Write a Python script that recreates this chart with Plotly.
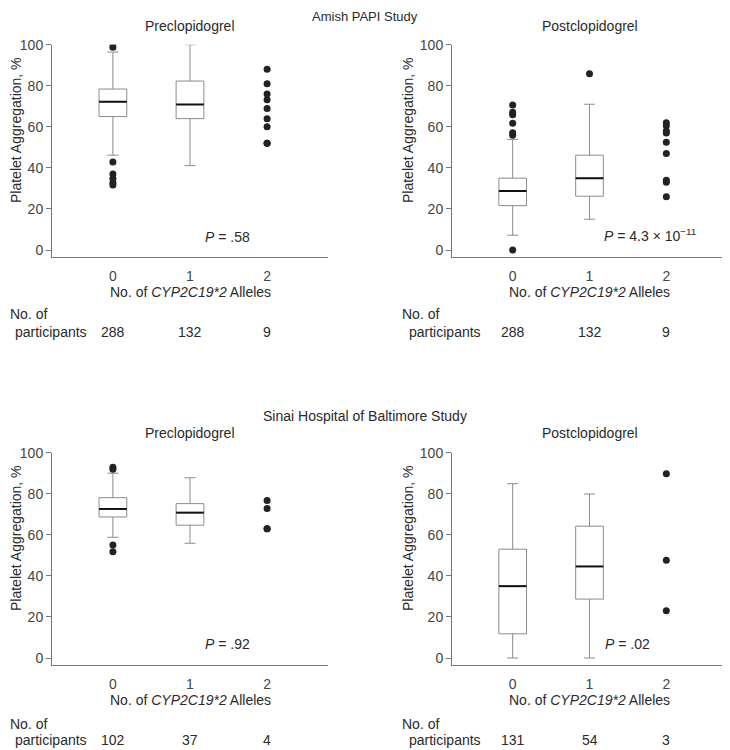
import plotly.graph_objects as go

# ---------------- data ----------------
categories = [0, 1, 2]
tick_labels = ["0", "1", "2"]

# Amish PAPI Study - Preclopidogrel (boxes for 0 and 1 alleles)
amish_pre_q1 = [65, 64]
amish_pre_median = [72.2, 70.9]
amish_pre_q3 = [78.4, 82.3]
amish_pre_low = [46.2, 41.1]
amish_pre_high = [96.4, 100]
amish_pre_out0 = [100.2, 98.7, 42.9, 37, 34.8, 32.8, 31.7]
amish_pre_pts2 = [88, 81, 76, 73.2, 68.9, 63.9, 60, 52, 52]
amish_pre_n = [288, 132, 9]
amish_pre_p = "<i>P</i> = .58"

# Amish PAPI Study - Postclopidogrel
amish_post_q1 = [21.6, 26.2]
amish_post_median = [28.8, 35]
amish_post_q3 = [35, 46.2]
amish_post_low = [7.2, 15]
amish_post_high = [53.9, 71]
amish_post_out0 = [70.6, 67.1, 65.9, 61.7, 57.1, 55.9, 0]
amish_post_out1 = [85.9]
amish_post_pts2 = [62, 60.5, 58, 57, 52.5, 47, 34, 33, 26]
amish_post_n = [288, 132, 9]
amish_post_p = "<i>P</i> = 4.3 × 10<sup>−11</sup>"

# Sinai Hospital of Baltimore Study - Preclopidogrel
sinai_pre_q1 = [68.7, 64.7]
sinai_pre_median = [72.6, 70.8]
sinai_pre_q3 = [78.1, 75.2]
sinai_pre_low = [58.8, 55.9]
sinai_pre_high = [90, 87.8]
sinai_pre_out0 = [92.9, 91.9, 55.1, 51.7]
sinai_pre_pts2 = [76.7, 72.8, 62.9, 62.9]
sinai_pre_n = [102, 37, 4]
sinai_pre_p = "<i>P</i> = .92"

# Sinai Hospital of Baltimore Study - Postclopidogrel
sinai_post_q1 = [11.8, 28.7]
sinai_post_median = [35, 44.6]
sinai_post_q3 = [53, 64.2]
sinai_post_low = [0, 0]
sinai_post_high = [84.9, 79.9]
sinai_post_out0 = []
sinai_post_pts2 = [89.8, 47.6, 23]
sinai_post_n = [131, 54, 3]
sinai_post_p = "<i>P</i> = .02"

# ---------------- styling ----------------
W, H = 730, 750
OFF = 8  # page body margin offset
FONT = "Liberation Sans, Arial, sans-serif"
TXT = "#2a2a2a"
GRAY = "#8c8c8c"
AXC = "#777777"
DOT = "#222222"
BOXW = 0.36
FS = 14


def py(p):
    return 1 - (p - OFF) / H


def px(p):
    return (p - OFF) / W


panels = [
    dict(ax="", dom_x=[px(52), px(328)], dom_y=[py(257), py(44.7)],
         q1=amish_pre_q1, med=amish_pre_median, q3=amish_pre_q3, lo=amish_pre_low, hi=amish_pre_high,
         out=[amish_pre_out0, [], amish_pre_pts2], n=amish_pre_n, p=amish_pre_p, pxy=(1.48, 6.3),
         sub="Preclopidogrel"),
    dict(ax="2", dom_x=[px(452), px(727)], dom_y=[py(257), py(44.7)],
         q1=amish_post_q1, med=amish_post_median, q3=amish_post_q3, lo=amish_post_low, hi=amish_post_high,
         out=[amish_post_out0, amish_post_out1, amish_post_pts2], n=amish_post_n, p=amish_post_p, pxy=(1.79, 7.5),
         sub="Postclopidogrel"),
    dict(ax="3", dom_x=[px(52), px(328)], dom_y=[py(665), py(452.7)],
         q1=sinai_pre_q1, med=sinai_pre_median, q3=sinai_pre_q3, lo=sinai_pre_low, hi=sinai_pre_high,
         out=[sinai_pre_out0, [], sinai_pre_pts2], n=sinai_pre_n, p=sinai_pre_p, pxy=(1.48, 6.8),
         sub="Preclopidogrel"),
    dict(ax="4", dom_x=[px(452), px(727)], dom_y=[py(665), py(452.7)],
         q1=sinai_post_q1, med=sinai_post_median, q3=sinai_post_q3, lo=sinai_post_low, hi=sinai_post_high,
         out=[sinai_post_out0, [], sinai_post_pts2], n=sinai_post_n, p=sinai_post_p, pxy=(1.49, 7.0),
         sub="Postclopidogrel"),
]

fig = go.Figure()
shapes = []
annotations = []
layout = dict(
    width=W, height=H, margin=dict(l=0, r=0, t=0, b=0, autoexpand=False),
    paper_bgcolor="white", plot_bgcolor="white", showlegend=False,
    font=dict(family=FONT, size=FS, color=TXT),
)


def txt(text, x, y, xref="paper", yref="paper", xanchor="center", angle=0, size=FS):
    return dict(text=text, xref=xref, yref=yref, x=x, y=y, showarrow=False,
                xanchor=xanchor, yanchor="middle", textangle=angle, borderpad=0,
                font=dict(family=FONT, size=size, color=TXT))


for i, pn in enumerate(panels):
    xa = "x" + pn["ax"]
    ya = "y" + pn["ax"]
    fig.add_trace(go.Box(
        x=categories[:2], q1=pn["q1"], median=pn["med"], q3=pn["q3"],
        lowerfence=pn["lo"], upperfence=pn["hi"],
        width=BOXW, whiskerwidth=0.4, boxpoints=False,
        line=dict(color=GRAY, width=1), fillcolor="white",
        xaxis=xa, yaxis=ya, hoverinfo="skip",
    ))
    for c, vals in zip(categories, pn["out"]):
        if len(vals):
            fig.add_trace(go.Scatter(
                x=[c] * len(vals), y=vals, mode="markers",
                marker=dict(color=DOT, size=7),
                xaxis=xa, yaxis=ya, hoverinfo="skip",
            ))
    for c, m in zip(categories[:2], pn["med"]):
        shapes.append(dict(type="line", xref=xa, yref=ya, x0=c - BOXW / 2, x1=c + BOXW / 2,
                           y0=m, y1=m, line=dict(color="#111111", width=2), layer="above"))

    layout["xaxis" + pn["ax"]] = dict(
        domain=pn["dom_x"], anchor=ya, range=[-0.79, 2.79],
        tickvals=categories, ticktext=tick_labels,
        showline=True, linecolor=AXC, linewidth=1,
        ticks="outside", ticklen=6, tickcolor="rgba(0,0,0,0)",
        showgrid=False, zeroline=False, automargin=False,
        tickfont=dict(family=FONT, size=FS, color="#444444"), fixedrange=True,
    )
    layout["yaxis" + pn["ax"]] = dict(
        domain=pn["dom_y"], anchor=xa, range=[-3.4, 100],
        tickvals=[0, 20, 40, 60, 80, 100],
        showline=True, linecolor=AXC, linewidth=1,
        ticks="outside", ticklen=5, tickcolor=AXC,
        showgrid=False, zeroline=False, automargin=False,
        tickfont=dict(family=FONT, size=FS, color="#444444"), fixedrange=True,
    )

    top = i < 2
    left = i % 2 == 0
    annotations.append(txt(pn["sub"], 1, py(26 if top else 433.3), xref=xa))
    annotations.append(txt("No. of <i>CYP2C19*2</i> Alleles", 1, py(292 if top else 700), xref=xa))
    annotations.append(txt("Platelet Aggregation, %", px(16 if left else 408), py(130 if top else 538), angle=-90))
    annotations.append(txt(pn["p"], pn["pxy"][0], pn["pxy"][1], xref=xa, yref=ya))
    y1 = py(314 if top else 723.7)
    y2 = py(332 if top else 740)
    annotations.append(txt("No. of", px(9 if left else 401), y1, xanchor="left"))
    annotations.append(txt("participants", px(14 if left else 408), y2, xanchor="left"))
    for c, n in zip(categories, pn["n"]):
        annotations.append(txt(str(n), c, y2, xref=xa))

annotations.append(txt("Amish PAPI Study", px(365), py(16), size=13))
annotations.append(txt("Sinai Hospital of Baltimore Study", px(365), py(416)))

layout["shapes"] = shapes
layout["annotations"] = annotations
fig.update_layout(**layout)
fig.write_html("out.html")
